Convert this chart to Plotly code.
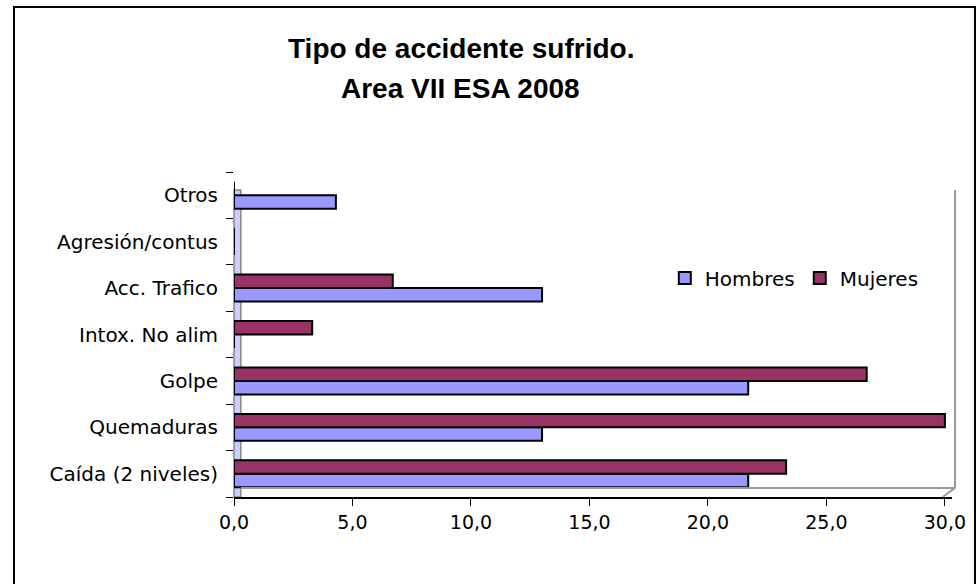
import plotly.graph_objects as go

categories = [
    "Caída (2 niveles)",
    "Quemaduras",
    "Golpe",
    "Intox. No alim",
    "Acc. Trafico",
    "Agresión/contus",
    "Otros",
]
hombres = [21.7, 13.0, 21.7, 0.0, 13.0, 0.0, 4.3]
mujeres = [23.3, 30.0, 26.7, 3.3, 6.7, 0.0, 0.0]
x_ticks = [0, 5, 10, 15, 20, 25, 30]

TITLE_FONT = "Liberation Sans, Arial, sans-serif"
TEXT_FONT = "DejaVu Sans, sans-serif"

fig = go.Figure()
fig.add_trace(
    go.Bar(
        y=categories,
        x=hombres,
        orientation="h",
        name="Hombres",
        marker=dict(color="#9999FF", line=dict(color="black", width=2)),
    )
)
fig.add_trace(
    go.Bar(
        y=categories,
        x=mujeres,
        orientation="h",
        name="Mujeres",
        marker=dict(color="#993366", line=dict(color="black", width=2)),
    )
)

# plot box: x 234..952 px, y 172..497 px
fig.update_layout(
    width=979,
    height=584,
    margin=dict(l=234, r=27, t=172, b=87),
    paper_bgcolor="white",
    plot_bgcolor="white",
    separators=",.",
    barmode="group",
    bargap=0.42,
    bargroupgap=0.0,
    font=dict(family=TEXT_FONT, size=20, color="black"),
    showlegend=True,
    legend=dict(
        orientation="h",
        x=0.6,
        y=0.674,
        xanchor="left",
        yanchor="middle",
        font=dict(size=20),
        bgcolor="rgba(0,0,0,0)",
        itemwidth=30,
        traceorder="normal",
    ),
    annotations=[
        dict(
            text="<b>Tipo de accidente sufrido.</b>",
            x=0.316, y=1.3815, xref="paper", yref="paper",
            xanchor="center", yanchor="middle", showarrow=False,
            font=dict(size=28, family=TITLE_FONT),
        ),
        dict(
            text="<b>Area VII ESA 2008</b>",
            x=0.316, y=1.258, xref="paper", yref="paper",
            xanchor="center", yanchor="middle", showarrow=False,
            font=dict(size=28, family=TITLE_FONT),
        ),
    ],
    shapes=[
        # outer frame
        dict(type="rect", xref="paper", yref="paper", x0=-0.3064, x1=1.032,
             y0=-0.4, y1=1.5077, line=dict(color="black", width=2),
             fillcolor="rgba(0,0,0,0)", layer="below"),
        # side wall
        dict(type="rect", xref="paper", yref="paper", x0=0.0, x1=0.0095,
             y0=0.0, y1=0.945, line=dict(color="#888888", width=1.5),
             fillcolor="#CCCCFF", layer="below"),
        # back wall right edge
        dict(type="line", xref="paper", yref="paper", x0=1.0042, x1=1.0042,
             y0=0.028, y1=0.945, line=dict(color="#999999", width=2)),
        # floor back edge
        dict(type="line", xref="paper", yref="paper", x0=0.0095, x1=1.0042,
             y0=0.028, y1=0.028, line=dict(color="#999999", width=2)),
        dict(type="line", xref="paper", yref="paper", x0=0.987, x1=1.0042,
             y0=0.0, y1=0.028, line=dict(color="#999999", width=2)),
    ],
)

fig.update_xaxes(
    range=[0, 30.3],
    tickvals=x_ticks,
    tickformat=".1f",
    ticks="outside",
    ticklen=7,
    tickcolor="black",
    showline=True,
    linecolor="black",
    linewidth=1.5,
    showgrid=False,
    zeroline=False,
    tickfont=dict(size=19),
    fixedrange=True,
)
fig.update_yaxes(
    categoryorder="array",
    categoryarray=categories,
    ticks="outside",
    ticklen=7,
    tickcolor="black",
    showline=False,
    showgrid=False,
    zeroline=False,
    tickson="boundaries",
    ticklabelstandoff=15,
    tickfont=dict(size=20),
    fixedrange=True,
)

# drop the default 8px body margin so the figure fills the window exactly
fig.write_html(
    "out.html",
    config={"displayModeBar": False},
    post_script="document.body.style.margin='0';document.body.style.overflow='hidden';",
)
